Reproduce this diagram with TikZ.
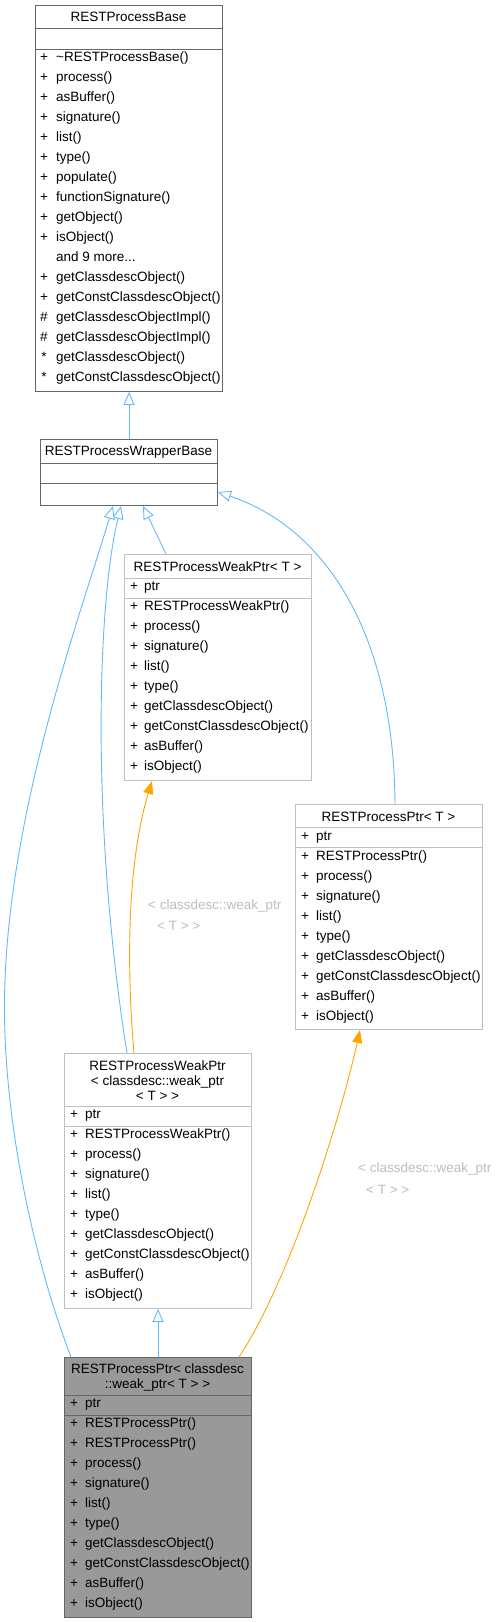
\documentclass[tikz,border=0pt]{standalone}
\usepackage{fontspec}
\setmainfont{Liberation Sans}
\usetikzlibrary{arrows.meta,calc}
\definecolor{edgeblue}{HTML}{63B8FF}
\definecolor{edgeorange}{HTML}{FFA500}
\definecolor{darkborder}{HTML}{666666}
\definecolor{lightborder}{HTML}{BFBFBF}
\definecolor{fillgray}{HTML}{999999}
\definecolor{lblgray}{HTML}{BDBDBD}
\newcommand\memberrows[5]{%
  \foreach \s/\t [count=\i] in {#5} {%
    \node[symtxt] (#1s\i) at (#2, {#4+20*(\i-1)}) {\s};
    \node[memtxt] (#1t\i) at (#3, {#4+20*(\i-1)}) {\t};
  }}
\begin{document}
\begin{tikzpicture}[x=1pt,y=-1pt,
  font=\fontsize{13.5}{15}\selectfont,
  classbox/.style={draw=#1, line width=1pt, fill=white, minimum width=187pt, anchor=north west, inner sep=0pt},
  sepline/.style={draw=#1, line width=1pt},
  symtxt/.style={inner sep=0pt, text height=9.5pt, text depth=2.8pt},
  memtxt/.style={inner sep=0pt, anchor=west, text height=9.5pt, text depth=2.8pt},
  ttl/.style={inner sep=0pt, align=center},
  lbl/.style={inner sep=0pt, anchor=west, text=lblgray},
  inh/.style={draw=edgeblue, line width=0.9pt, -{Triangle[open, length=13pt, width=11pt, fill=white]}},
  usedge/.style={draw=edgeorange, line width=0.9pt, -{Triangle[length=13pt, width=10pt, fill=edgeorange]}}
]
\useasboundingbox (0,0) rectangle (498,1623);

% ---------------- RESTProcessBase
\node[classbox=darkborder, minimum height=386pt] (base) at (35,5) {};
\draw[sepline=darkborder] (base.west |- 0,28) -- (base.east |- 0,28);
\draw[sepline=darkborder] (base.west |- 0,49) -- (base.east |- 0,49);
\node[ttl] (baset) at (128.5,17) {RESTProcessBase};
\memberrows{base}{44}{56}{58}{+/{\textasciitilde RESTProcessBase()},+/process(),+/asBuffer(),+/signature(),+/list(),+/type(),+/populate(),+/functionSignature(),+/getObject(),+/isObject(),{}/{and 9 more...},+/getClassdescObject(),+/getConstClassdescObject(),\#/getClassdescObjectImpl(),\#/getClassdescObjectImpl(),*/getClassdescObject(),*/getConstClassdescObject()}

% ---------------- RESTProcessWrapperBase
\node[classbox=darkborder, minimum width=177pt, minimum height=66pt] (wb) at (40,439) {};
\draw[sepline=darkborder] (wb.west |- 0,463) -- (wb.east |- 0,463);
\draw[sepline=darkborder] (wb.west |- 0,483) -- (wb.east |- 0,483);
\node[ttl] (wbt) at (128.5,452) {RESTProcessWrapperBase};

% ---------------- RESTProcessWeakPtr< T >
\node[classbox=lightborder, minimum height=226pt] (wpt) at (124,554) {};
\draw[sepline=lightborder] (wpt.west |- 0,578) -- (wpt.east |- 0,578);
\draw[sepline=lightborder] (wpt.west |- 0,598) -- (wpt.east |- 0,598);
\node[ttl] (wptt) at (217.5,567) {RESTProcessWeakPtr< T >};
\memberrows{wptp}{134}{144}{587}{+/ptr}
\memberrows{wptm}{134}{144}{607}{+/RESTProcessWeakPtr(),+/process(),+/signature(),+/list(),+/type(),+/getClassdescObject(),+/getConstClassdescObject(),+/asBuffer(),+/isObject()}

% ---------------- RESTProcessPtr< T >
\node[classbox=lightborder, minimum height=225pt] (ptr) at (295,804) {};
\draw[sepline=lightborder] (ptr.west |- 0,827) -- (ptr.east |- 0,827);
\draw[sepline=lightborder] (ptr.west |- 0,847) -- (ptr.east |- 0,847);
\node[ttl] (ptrt) at (388.5,817) {RESTProcessPtr< T >};
\memberrows{ptrp}{305}{316}{837}{+/ptr}
\memberrows{ptrm}{305}{316}{857}{+/RESTProcessPtr(),+/process(),+/signature(),+/list(),+/type(),+/getClassdescObject(),+/getConstClassdescObject(),+/asBuffer(),+/isObject()}

% ---------------- RESTProcessWeakPtr< classdesc::weak_ptr< T > >
\node[classbox=lightborder, minimum height=255pt] (wpc) at (64,1053) {};
\draw[sepline=lightborder] (wpc.west |- 0,1106) -- (wpc.east |- 0,1106);
\draw[sepline=lightborder] (wpc.west |- 0,1126) -- (wpc.east |- 0,1126);
\node[ttl] (wpct) at (157.5,1081) {RESTProcessWeakPtr\\< classdesc::weak\_ptr\\< T > >};
\memberrows{wpcp}{74}{85}{1115}{+/ptr}
\memberrows{wpcm}{74}{85}{1135}{+/RESTProcessWeakPtr(),+/process(),+/signature(),+/list(),+/type(),+/getClassdescObject(),+/getConstClassdescObject(),+/asBuffer(),+/isObject()}

% ---------------- RESTProcessPtr< classdesc::weak_ptr< T > >
\node[classbox=darkborder, fill=fillgray, minimum height=260pt] (bot) at (64,1357) {};
\draw[sepline=darkborder] (bot.west |- 0,1395) -- (bot.east |- 0,1395);
\draw[sepline=darkborder] (bot.west |- 0,1415) -- (bot.east |- 0,1415);
\node[ttl] (bott) at (157.5,1377) {RESTProcessPtr< classdesc\\::weak\_ptr< T > >};
\memberrows{botp}{74}{85}{1404}{+/ptr}
\memberrows{botm}{74}{85}{1424}{+/RESTProcessPtr(),+/RESTProcessPtr(),+/process(),+/signature(),+/list(),+/type(),+/getClassdescObject(),+/getConstClassdescObject(),+/asBuffer(),+/isObject()}

% ---------------- edge labels
\node[lbl] (l1a) at (148,906) {< classdesc::weak\_ptr};
\node[lbl] (l1b) at (157,926) {< T > >};
\node[lbl] (l2a) at (358,1169) {< classdesc::weak\_ptr};
\node[lbl] (l2b) at (366,1190) {< T > >};

% ---------------- connectors
\draw[inh] (wb.north) -- (base.south);
\draw[inh] ($(wpt.north west)+(42,0)$) -- ($(wb.south west)+(103,0)$);
\draw[inh] ($(ptr.north west)+(100,0)$) .. controls (394,640) and (330,530) .. ($(wb.south east)+(0,-14)$);
\draw[inh] ($(wpc.north west)+(63,0)$) .. controls (90,820) and (98,600) .. ($(wb.south west)+(81,0)$);
\draw[inh] ($(bot.north west)+(7,0)$) .. controls (30,1250) and (0,1100) .. (5,980) .. controls (12,800) and (82,610) .. ($(wb.south west)+(73,0)$);
\draw[inh] (bot.north) -- (wpc.south);
\draw[usedge] ($(wpc.north west)+(70,0)$) .. controls (126,960) and (128,860) .. ($(wpt.south west)+(28,0)$);
\draw[usedge] ($(bot.north west)+(175,0)$) .. controls (290,1280) and (340,1120) .. ($(ptr.south west)+(65,0)$);
\end{tikzpicture}
\end{document}
